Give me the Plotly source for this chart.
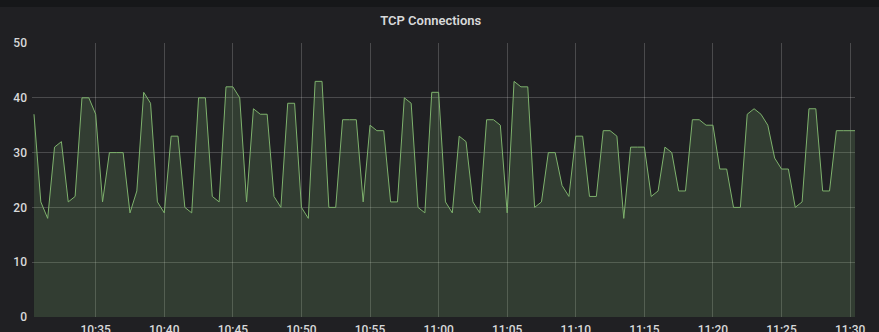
import pandas as pd
import plotly.graph_objects as go

# Sample times: every 30 s starting 10:30:30
start_time = "2019-06-10 10:30:30"
n_points = 121
times = pd.date_range(start_time, periods=n_points, freq="30s")

connections = [
    37, 21, 18, 31, 32, 21, 22, 40, 40, 37,
    21, 30, 30, 30, 19, 23, 41, 39, 21, 19,
    33, 33, 20, 19, 40, 40, 22, 21, 42, 42,
    40, 21, 38, 37, 37, 22, 20, 39, 39, 20,
    18,
    43, 43, 20, 20, 36, 36, 36, 21, 35, 34,
    34, 21, 21, 40, 39, 20, 19, 41, 41, 21,
    19, 33, 32, 21, 19, 36, 36, 35, 19, 43,
    42, 42, 20, 21, 30, 30, 24, 22, 33, 33,
    22, 22, 34, 34, 33, 18, 31, 31, 31, 22,
    23, 31, 30, 23, 23, 36, 36, 35, 35, 27,
    27, 20, 20, 37, 38, 37, 35, 29, 27, 27,
    20, 21, 38, 38, 23, 23, 34, 34, 34,
    34,
]

x_range = ["2019-06-10 10:30:21.4", "2019-06-10 11:30:21.4"]
y_ticks = [0, 10, 20, 30, 40, 50]

PANEL_BG = "#202023"
PAGE_BG = "#161719"
TEXT = "#d8d9da"
GRID = "rgba(255,255,255,0.19)"
LINE = "#7eb26d"
FILL = "rgba(126,178,109,0.2)"

W, H = 879, 332
L, R, T, B = 32, 24, 43, 15

fig = go.Figure()
fig.add_trace(go.Scatter(
    x=times, y=connections, mode="lines",
    line=dict(color=LINE, width=1),
    fill="tozeroy", fillcolor=FILL,
    hoverinfo="skip", showlegend=False,
))

plot_h = H - T - B
fig.update_layout(
    width=W, height=H,
    margin=dict(l=L, r=R, t=T, b=B, pad=0),
    paper_bgcolor=PANEL_BG, plot_bgcolor=PANEL_BG,
    template="none",
    title=dict(text="TCP Connections", x=0.49, xanchor="center",
               y=1 - 20.5 / H, yanchor="middle", yref="container",
               font=dict(family="Roboto", size=13, color=TEXT, weight=600)),
    font=dict(family="Roboto", size=12, color=TEXT),
    shapes=[dict(type="rect", xref="paper", yref="paper",
                 x0=-0.1, x1=1.1, y0=1 + (T - 7) / plot_h, y1=1 + (T + 5) / plot_h,
                 fillcolor=PAGE_BG, line=dict(width=0), layer="below")],
)
fig.update_xaxes(
    range=x_range, type="date", dtick=5 * 60 * 1000, tickformat="%H:%M",
    showgrid=True, gridcolor=GRID, gridwidth=1, zeroline=False,
    showline=False, ticks="", automargin=False,
    tickfont=dict(family="Roboto", size=12, color=TEXT, weight=500),
    ticklabelstandoff=4,
)
fig.update_yaxes(
    range=[0, 50], tickvals=y_ticks, ticktext=[str(v) for v in y_ticks],
    showgrid=True, gridcolor=GRID, gridwidth=1, zeroline=False,
    showline=False, ticks="", automargin=False,
    tickfont=dict(family="Roboto", size=12, color=TEXT, weight=500),
    ticklabelstandoff=4,
)

fig.write_html("out.html")
